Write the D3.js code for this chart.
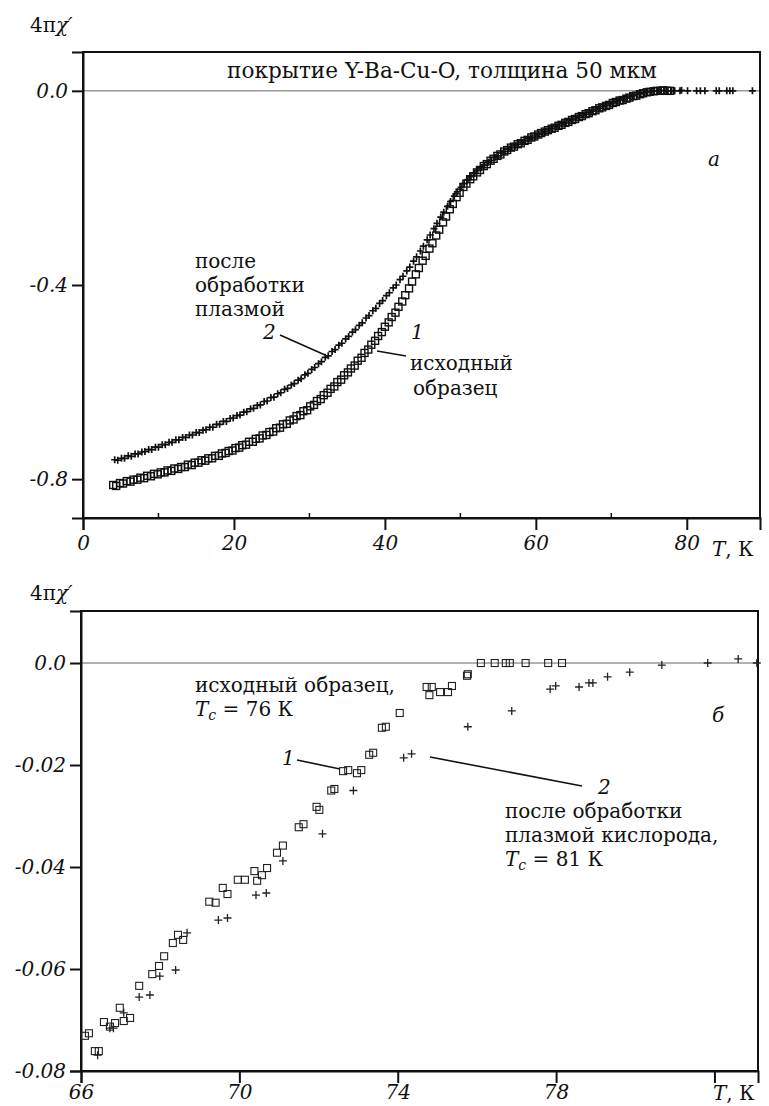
<!DOCTYPE html>
<html>
<head>
<meta charset="utf-8">
<script src="https://cdn.jsdelivr.net/npm/d3@7"></script>
<style>
body { margin: 0; background: #fff; }
svg { display: block; font-family: "DejaVu Serif", serif; }
</style>
</head>
<body>
<svg width="769" height="1106"></svg>
<script>

// panel a: 4*pi*chi' vs T, coating Y-Ba-Cu-O, 50 um
// series 1 - initial sample (squares), series 2 - after plasma (crosses)
var sqA = [
[4.0,-0.812],[4.4,-0.814],[4.9,-0.808],[5.3,-0.809],[5.8,-0.804],[6.3,-0.805],[6.7,-0.801],[7.2,-0.801],[7.6,-0.797],[8.1,-0.798],
[8.5,-0.793],[9.0,-0.794],[9.4,-0.789],[9.9,-0.790],[10.3,-0.786],[10.8,-0.786],[11.2,-0.782],[11.7,-0.783],[12.1,-0.778],[12.6,-0.779],
[13.0,-0.775],[13.5,-0.775],[13.9,-0.770],[14.4,-0.771],[14.8,-0.766],[15.3,-0.766],[15.7,-0.761],[16.2,-0.762],[16.6,-0.757],[17.1,-0.757],
[17.5,-0.752],[18.0,-0.752],[18.4,-0.747],[18.9,-0.746],[19.3,-0.742],[19.8,-0.741],[20.2,-0.736],[20.7,-0.735],[21.1,-0.730],[21.6,-0.729],
[22.0,-0.723],[22.5,-0.723],[22.9,-0.717],[23.4,-0.716],[23.8,-0.710],[24.3,-0.709],[24.7,-0.703],[25.2,-0.702],[25.6,-0.695],[26.1,-0.694],
[26.5,-0.687],[27.0,-0.686],[27.4,-0.679],[27.9,-0.677],[28.3,-0.670],[28.8,-0.668],[29.2,-0.660],[29.7,-0.658],[30.1,-0.650],[30.6,-0.647],
[31.0,-0.639],[31.5,-0.635],[31.9,-0.627],[32.4,-0.622],[32.8,-0.614],[33.3,-0.609],[33.7,-0.600],[34.2,-0.595],[34.6,-0.586],[35.1,-0.580],
[35.5,-0.572],[36.0,-0.566],[36.4,-0.556],[36.9,-0.550],[37.3,-0.540],[37.8,-0.533],[38.2,-0.523],[38.7,-0.515],[39.1,-0.505],[39.6,-0.497],
[40.0,-0.486],[40.5,-0.477],[40.9,-0.466],[41.4,-0.457],[41.8,-0.445],[42.3,-0.434],[42.7,-0.421],[43.2,-0.407],[43.6,-0.393],[44.1,-0.378],
[44.5,-0.365],[45.0,-0.350],[45.4,-0.340],[45.9,-0.325],[46.3,-0.314],[46.8,-0.298],[47.2,-0.286],[47.7,-0.271],[48.1,-0.259],[48.6,-0.244],
[49.0,-0.233],[49.5,-0.219],[49.9,-0.210],[50.4,-0.198],[50.8,-0.191],[51.3,-0.182],[51.7,-0.176],[52.2,-0.168],[52.6,-0.163],[53.1,-0.155],
[53.5,-0.151],[54.0,-0.144],[54.4,-0.140],[54.9,-0.134],[55.3,-0.131],[55.8,-0.125],[56.2,-0.122],[56.7,-0.117],[57.1,-0.115],[57.6,-0.110],
[58.0,-0.108],[58.5,-0.103],[58.9,-0.101],[59.4,-0.096],[59.8,-0.094],[60.3,-0.090],[60.7,-0.087],[61.2,-0.084],[61.6,-0.081],[62.1,-0.078],
[62.5,-0.076],[63.0,-0.072],[63.4,-0.070],[63.9,-0.066],[64.3,-0.064],[64.8,-0.060],[65.2,-0.058],[65.7,-0.054],[66.1,-0.052],[66.6,-0.048],
[67.0,-0.046],[67.5,-0.042],[67.9,-0.040],[68.4,-0.036],[68.8,-0.034],[69.3,-0.031],[69.7,-0.029],[70.2,-0.025],[70.6,-0.023],[71.1,-0.020],
[71.5,-0.019],[72.0,-0.016],[72.4,-0.014],[72.9,-0.011],[73.3,-0.010],[73.8,-0.007],[74.2,-0.005],[74.7,-0.003],[75.1,-0.002],[75.6,-0.001],
[76.0,0.000],[76.5,0.000],[76.9,0.001],[77.4,0.000],[77.8,0.000]
];

var crA = [
[4.2,-0.760],[4.6,-0.761],[5.1,-0.757],[5.5,-0.757],[6.0,-0.752],[6.4,-0.753],[6.9,-0.748],[7.3,-0.748],[7.8,-0.744],[8.2,-0.743],
[8.7,-0.739],[9.1,-0.739],[9.6,-0.734],[10.0,-0.734],[10.5,-0.729],[10.9,-0.729],[11.4,-0.724],[11.8,-0.724],[12.3,-0.719],[12.7,-0.719],
[13.2,-0.714],[13.6,-0.714],[14.1,-0.709],[14.5,-0.709],[15.0,-0.704],[15.4,-0.704],[15.9,-0.699],[16.3,-0.698],[16.8,-0.693],[17.2,-0.693],
[17.7,-0.687],[18.1,-0.687],[18.6,-0.681],[19.0,-0.681],[19.5,-0.675],[19.9,-0.674],[20.4,-0.669],[20.8,-0.668],[21.3,-0.662],[21.7,-0.661],
[22.2,-0.655],[22.6,-0.654],[23.1,-0.648],[23.5,-0.647],[24.0,-0.640],[24.4,-0.639],[24.9,-0.632],[25.3,-0.631],[25.8,-0.624],[26.2,-0.622],
[26.7,-0.615],[27.1,-0.613],[27.6,-0.606],[28.0,-0.603],[28.5,-0.596],[28.9,-0.593],[29.4,-0.585],[29.8,-0.582],[30.3,-0.574],[30.7,-0.570],
[31.2,-0.562],[31.6,-0.558],[32.1,-0.549],[32.5,-0.546],[33.0,-0.537],[33.4,-0.533],[33.9,-0.524],[34.3,-0.520],[34.8,-0.511],[35.2,-0.506],
[35.7,-0.497],[36.1,-0.492],[36.6,-0.483],[37.0,-0.478],[37.5,-0.468],[37.9,-0.463],[38.4,-0.453],[38.8,-0.448],[39.3,-0.438],[39.7,-0.432],
[40.2,-0.422],[40.6,-0.416],[41.1,-0.406],[41.5,-0.400],[42.0,-0.389],[42.4,-0.382],[42.9,-0.371],[43.3,-0.363],[43.8,-0.351],[44.2,-0.342],
[44.7,-0.330],[45.1,-0.320],[45.6,-0.307],[46.0,-0.297],[46.5,-0.284],[46.9,-0.273],[47.4,-0.260],[47.8,-0.250],[48.3,-0.238],[48.7,-0.228],
[49.2,-0.217],[49.6,-0.208],[50.1,-0.199],[50.5,-0.191],[51.0,-0.183],[51.4,-0.177],[51.9,-0.170],[52.3,-0.164],[52.8,-0.158],[53.2,-0.153],
[53.7,-0.147],[54.1,-0.143],[54.6,-0.137],[55.0,-0.134],[55.5,-0.128],[55.9,-0.125],[56.4,-0.120],[56.8,-0.117],[57.3,-0.113],[57.7,-0.110],
[58.2,-0.106],[58.6,-0.103],[59.1,-0.099],[59.5,-0.097],[60.0,-0.093],[60.4,-0.090],[60.9,-0.087],[61.3,-0.084],[61.8,-0.080],[62.2,-0.078],
[62.7,-0.074],[63.1,-0.072],[63.6,-0.068],[64.0,-0.066],[64.5,-0.062],[64.9,-0.060],[65.4,-0.056],[65.8,-0.054],[66.3,-0.050],[66.7,-0.048],
[67.2,-0.044],[67.6,-0.042],[68.1,-0.038],[68.5,-0.036],[69.0,-0.032],[69.4,-0.030],[69.9,-0.027],[70.3,-0.025],[70.8,-0.021],[71.2,-0.019],
[71.7,-0.016],[72.1,-0.015],[72.6,-0.012],[73.0,-0.010],[73.5,-0.007],[73.9,-0.006],[74.4,-0.004],[74.8,-0.002],[75.3,-0.001],[75.7,0.000],
[76.2,0.000],[76.6,0.001],[77.1,0.000],[77.5,0.000],[78.0,0.000],[78.4,0.000],[79.1,0.000],[79.3,0.001],[80.1,0.000],[81.3,0.000],
[81.8,0.000],[82.4,0.000],[83.9,0.000],[84.3,0.000],[85.3,0.000],[85.7,0.000],[86.1,0.000],[88.7,0.000]
];

// panel b: zoom on the transition
var sqB = [
[66.1,-0.0731],[66.2,-0.0726],[66.35,-0.0761],[66.45,-0.0761],[66.58,-0.0704],[66.73,-0.0713],[66.86,-0.0706],[66.98,-0.0676],
[67.08,-0.0702],[67.24,-0.0696],[67.47,-0.0633],[67.8,-0.0610],[67.97,-0.0594],[68.1,-0.0575],[68.32,-0.0549],[68.45,-0.0533],
[68.58,-0.0543],[69.24,-0.0468],[69.4,-0.0470],[69.58,-0.0441],[69.7,-0.0453],[69.96,-0.0425],[70.14,-0.0425],[70.38,-0.0408],
[70.45,-0.0427],[70.57,-0.0416],[70.7,-0.0402],[70.95,-0.0372],[71.1,-0.0358],[71.5,-0.0322],[71.62,-0.0316],[71.95,-0.0282],
[72.02,-0.0288],[72.32,-0.0250],[72.4,-0.0247],[72.62,-0.0212],[72.75,-0.0210],[72.97,-0.0216],[73.08,-0.0210],[73.28,-0.0180],
[73.38,-0.0176],[73.6,-0.0127],[73.7,-0.0125],[74.05,-0.0098],[74.73,-0.0047],[74.8,-0.0063],[74.86,-0.0047],[75.07,-0.0057],
[75.27,-0.0057],[75.37,-0.0045],[75.75,-0.0025],[75.77,-0.0022],[76.1,0],[76.45,0],[76.73,0],[76.83,0],[77.23,0],[77.8,0],[78.15,0]
];

var crB = [
[66.42,-0.0769],[66.73,-0.0716],[66.82,-0.0716],[67.08,-0.0686],[67.47,-0.0655],[67.74,-0.0651],[67.99,-0.0614],[68.39,-0.0602],
[68.68,-0.0529],[69.47,-0.0504],[69.7,-0.0500],[70.42,-0.0455],[70.68,-0.0451],[71.1,-0.0388],[72.1,-0.0335],[72.88,-0.0250],
[74.15,-0.0186],[74.35,-0.0178],[75.77,-0.0125],[76.88,-0.0094],[77.85,-0.0051],[77.99,-0.0045],[78.58,-0.0047],[78.83,-0.0039],
[78.93,-0.0039],[79.3,-0.0027],[79.86,-0.0018],[80.67,-0.0004],[81.83,0],[82.6,0.0008],[83.07,0]
];

var ticksXA = [0, 20, 40, 60, 80];
var minorXA = [10, 30, 50, 70];
var ticksYA = [0, -0.4, -0.8];
var ticksXB = [66, 70, 74, 78, 82];
var ticksYB = [0, -0.02, -0.04, -0.06, -0.08];

var svg = d3.select('svg');

var xA = d3.scaleLinear().domain([0, 89.7]).range([83, 760]),
    yA = d3.scaleLinear().domain([-0.88, 0.08]).range([518, 52]);
var xB = d3.scaleLinear().domain([66, 83.1]).range([81, 758]),
    yB = d3.scaleLinear().domain([-0.08, 0.0102]).range([1071, 611]);

function fmtY(d) {
  if (d === 0) return '0.0';
  return Math.abs(d) < 0.1 ? d.toFixed(2) : d.toFixed(1);
}

function panel(x, y, xt, yt, pad, labelY) {
  var g = svg.append('g');
  var x0 = x.range()[0], x1 = x.range()[1], y0 = y.range()[0], y1 = y.range()[1];

  // zero line
  g.append('line')
    .attr('x1', x0).attr('x2', x1)
    .attr('y1', y(0)).attr('y2', y(0))
    .attr('stroke', '#666').attr('stroke-width', 1);

  g.append('rect')
    .attr('x', x0).attr('y', y1)
    .attr('width', x1 - x0).attr('height', y0 - y1)
    .attr('fill', 'none').attr('stroke', '#111').attr('stroke-width', 2);

  var ax = g.append('g')
    .attr('transform', 'translate(0,' + y0 + ')')
    .call(d3.axisBottom(x).tickValues(xt).tickSize(12).tickPadding(pad)
      .tickFormat(function(d) { return d === 82 ? '' : d; }));
  var ay = g.append('g')
    .attr('transform', 'translate(' + x0 + ',0)')
    .call(d3.axisLeft(y).tickValues(yt).tickSize(11).tickPadding(4).tickFormat(fmtY));

  [ax, ay].forEach(function(a) {
    a.select('.domain').attr('stroke', '#111').attr('stroke-width', 2);
    a.selectAll('.tick line').attr('stroke', '#111').attr('stroke-width', 2);
    a.selectAll('text')
      .attr('fill', '#111')
      .style('font-family', '"DejaVu Serif", serif')
      .style('font-style', 'italic')
      .style('font-size', '20px');
  });

  // y label
  var t = g.append('text')
    .attr('x', 30).attr('y', labelY)
    .attr('fill', '#111').style('font-size', '20px');
  t.append('tspan').text('4π');
  t.append('tspan').style('font-style', 'italic').text('χ′');
  return g;
}

var gA = panel(xA, yA, ticksXA, ticksYA, 6, 32);
var gB = panel(xB, yB, ticksXB, ticksYB, 2, 600);

// minor ticks on a
gA.selectAll('line.minor')
  .data(minorXA)
  .enter().append('line')
    .attr('x1', function(d) { return xA(d); })
    .attr('x2', function(d) { return xA(d); })
    .attr('y1', 518).attr('y2', 513)
    .attr('stroke', '#111').attr('stroke-width', 1.5);

// x axis titles
function tLabel(x, y) {
  var t = svg.append('text').attr('x', x).attr('y', y)
    .attr('fill', '#111').style('font-size', '20px');
  t.append('tspan').style('font-style', 'italic').text('T');
  t.append('tspan').text(', К');
}
tLabel(712, 556);
tLabel(713, 1100);

function squares(g, data, x, y, s, w, c) {
  g.append('g').selectAll('rect')
    .data(data)
    .enter().append('rect')
      .attr('x', function(d) { return x(d[0]) - s / 2; })
      .attr('y', function(d) { return y(d[1]) - s / 2; })
      .attr('width', s).attr('height', s)
      .attr('fill', 'none')
      .attr('stroke', c)
      .attr('stroke-width', w);
}

function crosses(g, data, x, y, s, w, c) {
  g.append('g').selectAll('path')
    .data(data)
    .enter().append('path')
      .attr('transform', function(d) {
        return 'translate(' + x(d[0]) + ',' + y(d[1]) + ')';
      })
      .attr('d', 'M' + (-s) + ',0H' + s + 'M0,' + (-s) + 'V' + s)
      .attr('fill', 'none')
      .attr('stroke', c)
      .attr('stroke-width', w);
}

squares(gA, sqA, xA, yA, 7, 1.4, '#111');
crosses(gA, crA, xA, yA, 3.5, 1.7, '#111');
squares(gB, sqB, xB, yB, 7, 1.1, '#222');
crosses(gB, crB, xB, yB, 4, 1.3, '#222');

// annotations
function note(x, y, str, italic, size) {
  return svg.append('text')
    .attr('x', x).attr('y', y)
    .attr('fill', '#111')
    .style('font-size', (size || 20) + 'px')
    .style('font-style', italic ? 'italic' : 'normal')
    .text(str);
}
function leader(x1, y1, x2, y2) {
  svg.append('line')
    .attr('x1', x1).attr('y1', y1).attr('x2', x2).attr('y2', y2)
    .attr('stroke', '#111').attr('stroke-width', 1.6);
}

note(227, 78, 'покрытие Y-Ba-Cu-O, толщина 50 мкм', false, 21.6);
note(708, 166, 'a', true);
note(195, 268, 'после');
note(195, 292, 'обработки');
note(195, 316, 'плазмой');
note(263, 339, '2', true);
leader(280, 335, 325, 355);
leader(377, 351, 406, 356);
note(411, 339, '1', true);
note(410, 370, 'исходный');
note(413, 395, 'образец');

note(195, 692, 'исходный образец,');
var tc1 = svg.append('text').attr('x', 195).attr('y', 716).attr('fill', '#111').style('font-size', '20px');
tc1.append('tspan').style('font-style', 'italic').text('T');
tc1.append('tspan').style('font-style', 'italic').style('font-size', '14px').attr('dy', 4).text('c');
tc1.append('tspan').attr('dy', -4).text(' = 76 К');

note(282, 765, '1', true);
leader(297, 760, 340, 769);
leader(430, 757, 582, 786);
note(598, 794, '2', true);
note(505, 818, 'после обработки');
note(505, 842, 'плазмой кислорода,');
var tc2 = svg.append('text').attr('x', 505).attr('y', 866).attr('fill', '#111').style('font-size', '20px');
tc2.append('tspan').style('font-style', 'italic').text('T');
tc2.append('tspan').style('font-style', 'italic').style('font-size', '14px').attr('dy', 4).text('c');
tc2.append('tspan').attr('dy', -4).text(' = 81 К');
note(712, 722, 'б', true);

</script>
</body>
</html>
